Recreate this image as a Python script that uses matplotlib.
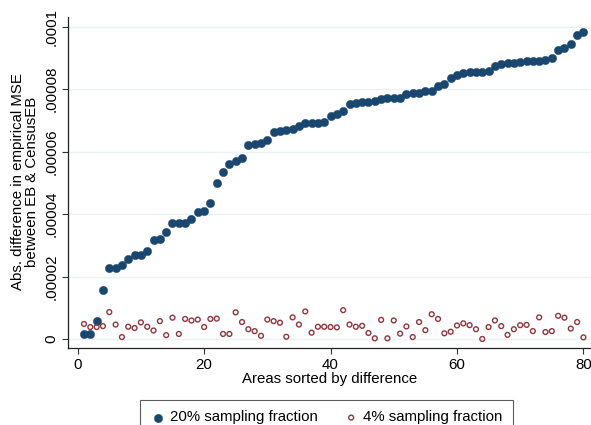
import matplotlib
matplotlib.use("Agg")
import matplotlib.pyplot as plt
from matplotlib.ticker import FixedLocator
import numpy as np

plt.rcParams['font.family'] = ['Liberation Sans', 'DejaVu Sans']

areas = list(range(1, 81))
# values in units of 1e-6
sf20 = [1.7, 1.7, 5.9, 15.7, 22.7, 22.7, 23.7, 25.6, 26.9, 26.9,
        28.2, 31.7, 32.2, 34.2, 37.1, 37.1, 37.3, 38.4, 40.6, 41.0,
        43.7, 49.9, 53.4, 56.0, 57.0, 57.9, 62.1, 62.5, 62.9, 63.7,
        66.4, 66.6, 66.9, 67.3, 68.2, 69.3, 69.3, 69.3, 69.4, 71.4,
        72.0, 73.0, 75.2, 75.7, 75.9, 75.9, 76.2, 77.0, 77.1, 77.1,
        77.3, 78.4, 78.7, 78.9, 79.3, 79.4, 81.0, 81.8, 83.5, 84.5,
        85.1, 85.4, 85.6, 85.6, 85.7, 87.5, 88.1, 88.3, 88.4, 88.6,
        89.1, 89.1, 89.1, 89.3, 90.1, 92.5, 93.3, 94.4, 97.4, 98.3]
sf4 = [4.9, 3.9, 3.9, 4.2, 8.7, 4.7, 0.7, 4.0, 3.6, 5.4,
       4.0, 2.8, 5.8, 1.3, 6.9, 1.7, 6.5, 6.0, 6.3, 3.9,
       6.5, 6.6, 1.7, 1.7, 8.6, 5.5, 3.2, 2.6, 1.1, 6.3,
       5.8, 5.3, 0.8, 7.0, 4.7, 8.9, 2.1, 4.0, 4.0, 3.9,
       3.8, 9.3, 4.7, 4.0, 4.3, 2.0, 0.3, 6.2, 0.3, 6.0,
       1.8, 4.1, 0.7, 5.5, 2.9, 8.0, 6.5, 1.9, 2.4, 4.4,
       5.1, 4.5, 3.2, 0.1, 3.9, 6.0, 4.2, 1.4, 3.2, 4.5,
       4.6, 2.6, 7.0, 2.3, 2.6, 7.5, 6.9, 3.4, 5.5, 0.6]
scale = 1e-6
yticks = [0, 0.00002, 0.00004, 0.00006, 0.00008, 0.0001]
ytick_labels = ["0", ".00002", ".00004", ".00006", ".00008", ".0001"]
xticks = [0, 20, 40, 60, 80]
labels = ["20% sampling fraction", "4% sampling fraction"]

navy = "#1a476f"
maroon = "#90353b"
fs = 10.8

fig = plt.figure(figsize=(5.91, 4.25), dpi=100)
ax = fig.add_axes([68/591, 1 - 348/425, 1 - 68/591, (348 - 17)/425])

y20 = np.array(sf20) * scale
y4 = np.array(sf4) * scale
ax.scatter(areas, y20, s=36, color=navy, edgecolors=navy, linewidths=0.3,
           label=labels[0], zorder=3)
ax.scatter(areas, y4, s=12, facecolors='none', edgecolors=maroon,
           linewidths=1.0, label=labels[1], zorder=3)

ax.set_xlim(-1.53, 81.2)
ax.set_ylim(-2.8e-6, 103.1e-6)
ax.yaxis.set_major_locator(FixedLocator(yticks))
ax.set_yticklabels(ytick_labels, rotation=90, va='center', fontsize=fs)
ax.set_xticks(xticks)
ax.set_xticklabels([str(v) for v in xticks], fontsize=fs)
ax.tick_params(axis='both', direction='out', length=4, width=0.8, color='#333333')
ax.tick_params(axis='x', pad=3)
ax.tick_params(axis='y', pad=3)

ax.grid(axis='y', color='#eaf2f3', linewidth=1.0, zorder=0)
ax.set_axisbelow(True)
for sp in ['top', 'right']:
    ax.spines[sp].set_visible(False)
for sp in ['left', 'bottom']:
    ax.spines[sp].set_linewidth(0.9)
    ax.spines[sp].set_color('#222222')

ax.set_xlabel("Areas sorted by difference", fontsize=fs, labelpad=0)
fig.text(25/591, 1 - 182/425, "Abs. difference in empirical MSE\nbetween EB & CensusEB",
         rotation=90, ha='center', va='center', fontsize=fs, linespacing=1.0,
         multialignment='center')

leg = fig.legend(loc='upper center', bbox_to_anchor=(326.7/591, 1 - 400/425),
                 ncol=2, frameon=True, fancybox=False, edgecolor='#333333',
                 fontsize=fs, handletextpad=0.3, columnspacing=1.7,
                 borderpad=0.7, borderaxespad=0, handlelength=1.0, markerscale=1.0)
leg.get_frame().set_linewidth(0.8)

fig.savefig("out.png", dpi=100)
